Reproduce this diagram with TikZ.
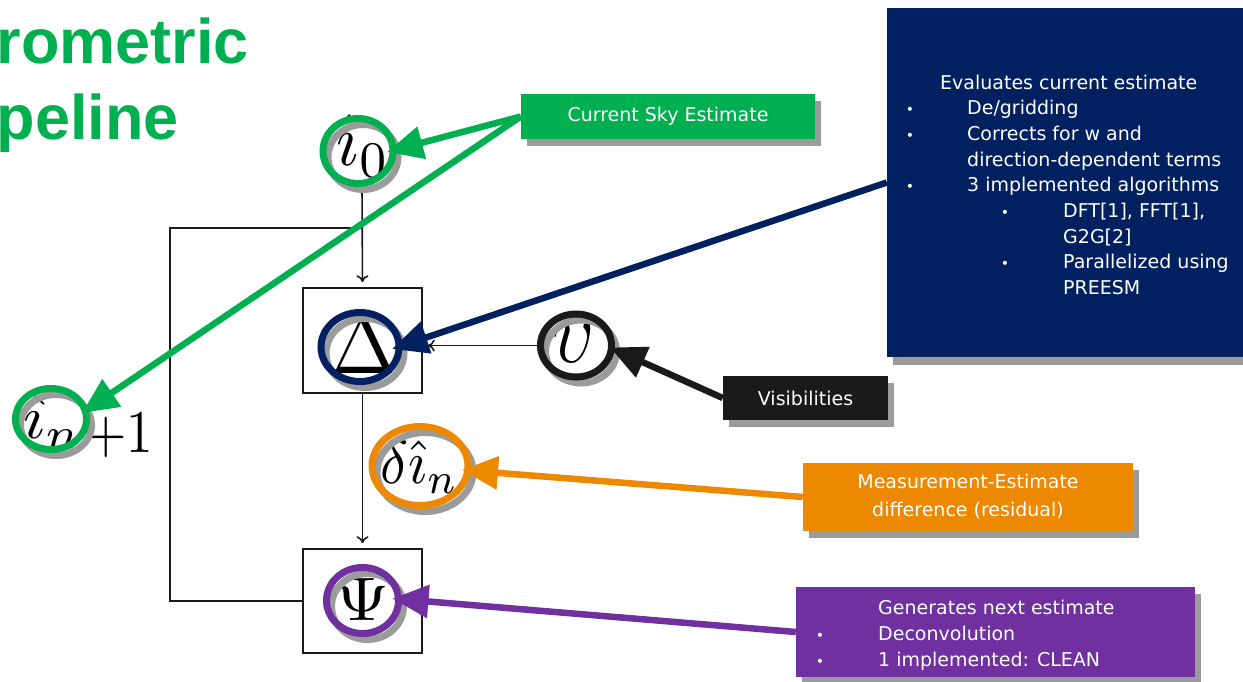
\RequirePackage{fix-cm}
\documentclass[tikz,border=0pt]{standalone}
\usepackage{fontspec}
\usepackage{graphicx}
\setmainfont{DejaVu Sans}
\newfontfamily\headfont{Liberation Sans}
\usetikzlibrary{arrows.meta,shadows,shapes.geometric,calc}

\definecolor{skygreen}{RGB}{0,176,80}
\definecolor{evalnavy}{RGB}{0,32,96}
\definecolor{visblack}{RGB}{26,26,26}
\definecolor{residorange}{RGB}{237,137,0}
\definecolor{cleanpurple}{RGB}{112,48,160}
\definecolor{shadegray}{RGB}{155,155,155}

\newcommand\calloutfont{\fontsize{19}{28}\selectfont}
\newcommand\bulletfont{\fontsize{14}{14}\selectfont}

\tikzset{
  notebox/.style={fill=#1, text=white, inner sep=0pt, font=\calloutfont,
    drop shadow={shadow xshift=6pt, shadow yshift=-7pt, fill=shadegray, opacity=1}},
  opbox/.style={draw=visblack, line width=1.6pt, fill=white, inner sep=0pt},
  glyph/.style={inner sep=0pt, outer sep=0pt},
  flow/.style={draw=visblack, line width=1.6pt},
  flowarrow/.style={flow, -{To[length=7pt,width=12pt]}, shorten >=5pt},
  ring/.style={ellipse, draw=#1, line width=7pt, inner sep=0pt, outer sep=0pt,
    preaction={draw=shadegray, line width=7pt,
      transform canvas={xshift=5pt, yshift=-6pt}}},
  pointer/.style={draw=#1, line width=6.5pt,
    -{Triangle[length=36pt,width=32pt,fill=#1]}},
  bodytext/.style={text=white, inner sep=0pt, font=\calloutfont, anchor=base west},
  bulletmark/.style={text=white, inner sep=0pt, font=\bulletfont, anchor=base},
  headline/.style={text=skygreen, inner sep=0pt, anchor=base east,
    font=\headfont\bfseries\fontsize{63}{63}\selectfont},
}

\begin{document}
\begin{tikzpicture}[x=1pt,y=-1pt]
\useasboundingbox (0,0) rectangle (1243,681);

% heading
\node[headline] (head1) at (249,63) {rometric};
\node[headline] (head2) at (179,139) {peline};

% operator boxes
\node[opbox, minimum width=119pt, minimum height=105pt] (grid) at (362.5,340.5) {};
\node[opbox, minimum width=119pt, minimum height=104pt] (psibox) at (362.5,601) {};

% symbols
\node[glyph] (delta) at (364.5,345) {\resizebox{65pt}{56pt}{$\Delta$}};
\node[glyph] (psi) at (362.5,599) {\resizebox{54pt}{42pt}{$\Psi$}};
\node[glyph] (vis) at (574,342.5) {\resizebox{42pt}{39pt}{$\upsilon$}};
\node[glyph] (i0) at (363.5,146) {\resizebox*{53pt}{62pt}{$\hat{\imath}_0$}};
\node[glyph] (resid) at (419.5,467) {\resizebox*{78pt}{52pt}{$\delta\hat{\imath}_n$}};
\node[glyph] (inext) at (53,422) {\resizebox*{58pt}{52pt}{$\hat{\imath}_n$}};
\node[glyph, anchor=base west] (plusone) at (85,452) {\resizebox{68pt}{39pt}{$+1$}};

% flow lines
\coordinate (loopleft) at (170,228);
\coordinate (join) at (362,228);
\node[glyph] (i0foot) at (362,187) {};
\draw[flowarrow] (i0foot) -- (grid.north);
\draw[flowarrow] (grid.south) -- (psibox.north);
\draw[flow] (psibox.west) -| (loopleft) -- (join);

% highlight rings
\node[ring=skygreen, minimum width=70pt, minimum height=65pt] (i0ring) at (358,151) {};
\node[ring=evalnavy, minimum width=78pt, minimum height=69pt] (gridring) at (360,347) {};
\node[ring=visblack, minimum width=71pt, minimum height=63pt] (visring) at (576,345.5) {};
\node[ring=residorange, minimum width=96pt, minimum height=79pt] (residring) at (420,466) {};
\node[ring=cleanpurple, minimum width=72pt, minimum height=66pt] (psiring) at (362.5,600.5) {};
\node[ring=skygreen, minimum width=71pt, minimum height=61pt] (inextring) at (51,419) {};

\draw[flowarrow] (visring.west) -- (visring.west -| grid.east);

% callout boxes
\node[notebox=skygreen, minimum width=294pt, minimum height=45pt] (skybox) at (668,116.5) {Current Sky Estimate};
\node[notebox=evalnavy, minimum width=370pt, minimum height=349pt,
  drop shadow={shadow xshift=6pt, shadow yshift=-8pt, fill=shadegray, opacity=1}] (evalbox) at (1072,182.5) {};
\node[notebox=visblack, minimum width=165pt, minimum height=44pt] (visbox) at (805.5,398) {Visibilities};
\node[notebox=residorange, minimum width=330pt, minimum height=68pt, align=center] (residbox) at (968,497)
  {Measurement-Estimate\\difference (residual)};
\node[notebox=cleanpurple, minimum width=399pt, minimum height=90pt] (cleanbox) at (995.5,632) {};

% text of the evaluation box
\node[bodytext] (ev0) at (940,89) {Evaluates current estimate};
\node[bulletmark] (evb1) at (910,114.7) {•};
\node[bodytext] (ev1) at (967,114.7) {De/gridding};
\node[bulletmark] (evb2) at (910,140.4) {•};
\node[bodytext] (ev2) at (967,140.4) {Corrects for w and};
\node[bodytext] (ev3) at (967,166.1) {direction-dependent terms};
\node[bulletmark] (evb4) at (910,191.8) {•};
\node[bodytext] (ev4) at (967,191.8) {3 implemented algorithms};
\node[bulletmark] (evb5) at (1005,217.5) {•};
\node[bodytext] (ev5) at (1063,217.5) {DFT[1], FFT[1],};
\node[bodytext] (ev6) at (1063,243.2) {G2G[2]};
\node[bulletmark] (evb7) at (1005,268.9) {•};
\node[bodytext] (ev7) at (1063,268.9) {Parallelized using};
\node[bodytext] (ev8) at (1063,294.6) {PREESM};

% text of the deconvolution box
\node[bodytext] (cl0) at (878,614) {Generates next estimate};
\node[bulletmark] (clb1) at (820,640) {•};
\node[bodytext] (cl1) at (878,640) {Deconvolution};
\node[bulletmark] (clb2) at (820,666) {•};
\node[bodytext] (cl2) at (878,666) {1 implemented: CLEAN};

% pointers from the callouts
\draw[pointer=skygreen] (skybox.west) -- ($(i0ring.center)+(29,1)$);
\draw[pointer=skygreen] (skybox.west) -- ($(inextring.center)+(31,-6)$);
\draw[pointer=evalnavy] (evalbox.west) -- ($(gridring.center)+(32,2)$);
\draw[pointer=visblack] (visbox.west) -- ($(visring.center)+(34,2)$);
\draw[pointer=residorange] (residbox.west) -- ($(residring.center)+(42,4)$);
\draw[pointer=cleanpurple] (cleanbox.west) -- ($(psiring.center)+(30,-2)$);
\end{tikzpicture}
\end{document}
